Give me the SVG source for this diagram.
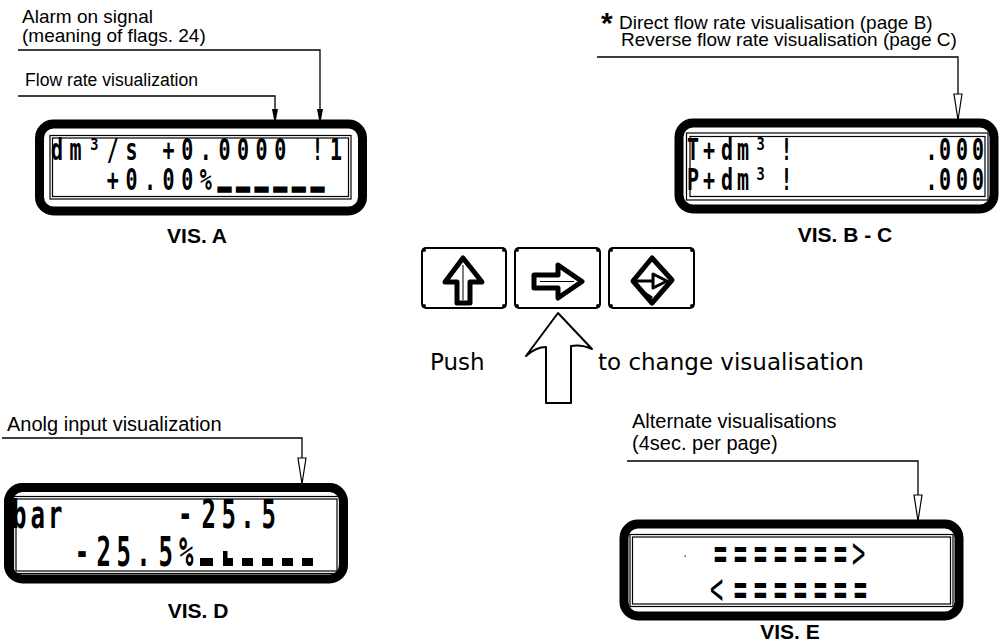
<svg xmlns="http://www.w3.org/2000/svg" width="1008" height="641" viewBox="0 0 1008 641">
<defs>
<marker id="mFill" markerUnits="userSpaceOnUse" markerWidth="18" markerHeight="8" refX="16" refY="3" orient="auto"><path d="M0,0 L16,3 L0,6 Z" fill="#000"/></marker>
<marker id="mOpen" markerUnits="userSpaceOnUse" markerWidth="30" markerHeight="12" refX="27" refY="5" orient="auto"><path d="M1,1 L27,5 L1,9 Z" fill="#fff" stroke="#000" stroke-width="1.2"/></marker>
</defs>
<style>
.lbl{font-family:"Liberation Sans",Arial,sans-serif;font-size:19px;fill:#000}
.lbl2{font-family:"Liberation Sans",Arial,sans-serif;font-size:20px;fill:#000}
.vis{font-family:"Liberation Sans",Arial,sans-serif;font-size:21px;font-weight:bold;text-anchor:middle;fill:#000}
.lcd{font-family:"DejaVu Sans Mono","Liberation Mono",monospace;font-weight:bold;font-size:20px;fill:#000}
.lcdD{font-size:24px}
.lcdE{font-size:22px}
.bar{stroke:#000;stroke-width:2.3}
.thin{font-weight:normal}
.frame{fill:none;stroke:#000;stroke-width:9}
.inner{fill:none;stroke:#000;stroke-width:1.2}
.lead{fill:none;stroke:#000;stroke-width:1.3}
.btn{fill:#fff;stroke:#000;stroke-width:2}
.dot{fill:#000}
.icon{fill:#fff;stroke:#000;stroke-width:5;stroke-linejoin:round}
.push{font-family:"DejaVu Sans",Verdana,sans-serif;font-size:23px;fill:#000}
</style>
<rect width="1008" height="641" fill="#fff"/>

<g id="connectors">
<path class="lead" d="M18,50 H320 V125" marker-end="url(#mFill)"/>
<path class="lead" d="M18,96 H275 V125" marker-end="url(#mFill)"/>
<path class="lead" d="M597,57 H958 V120" marker-end="url(#mOpen)"/>
<path class="lead" d="M2,438 H302 V484" marker-end="url(#mOpen)"/>
<path class="lead" d="M627,461 H918 V521" marker-end="url(#mOpen)"/>
</g>

<g id="label-alarm">
<text class="lbl" x="22" y="23">Alarm on signal</text>
<text class="lbl" x="22" y="42">(meaning of flags. 24)</text>
</g>
<g id="label-flow">
<text class="lbl" x="25" y="86" style="font-size:17.6px">Flow rate visualization</text>
</g>
<g id="label-bc">
<text x="601" y="33" style="font-family:'Liberation Sans',Arial,sans-serif;font-size:30px;font-weight:bold">*</text>
<text class="lbl" x="619" y="29">Direct flow rate visualisation (page B)</text>
<text class="lbl" x="621" y="46">Reverse flow rate visualisation (page C)</text>
</g>
<g id="label-analog">
<text class="lbl2" x="7" y="431">Anolg input visualization</text>
</g>
<g id="label-alternate">
<text class="lbl2" x="632" y="428">Alternate visualisations</text>
<text class="lbl2" x="632" y="450">(4sec. per page)</text>
</g>

<g id="vis-a">
<rect class="frame" x="39.5" y="124" width="323" height="87" rx="14"/>
<rect class="inner" x="50" y="135.5" width="301" height="63.5"/>
<rect class="inner" x="52.5" y="138" width="296" height="58.5"/>
<text class="lcd" transform="translate(51,160) scale(1,1.5)" x="0 18.6 37.2 55.8 74.4 93 111.6 130.2 148.8 167.4 186 204.6 223.2 241.8 260.4 279">dm³/s +0.0000 !1</text>
<text class="lcd" transform="translate(106.8,190) scale(1,1.5)" x="0 18.6 37.2 55.8 74.4 93 111.6 130.2 148.8 167.4 186 204.6">+0.00%<tspan class="bar" dy="-4">______</tspan></text>
<text class="vis" x="197" y="243">VIS. A</text>
</g>

<g id="vis-bc">
<rect class="frame" x="679" y="123" width="315" height="86" rx="14"/>
<rect class="inner" x="686.5" y="133" width="301.5" height="67"/>
<rect class="inner" x="690" y="136.5" width="295" height="60"/>
<text class="lcd" transform="translate(0,160) scale(1,1.55)" x="687 703 721 737 754.5 780.5 800 925.5 939 956 972">T+dm³! .000</text>
<text class="lcd" transform="translate(0,190) scale(1,1.55)" x="687 703 721 737 754.5 780.5 800 925.5 939 956 972">P+dm³! .000</text>
<text class="vis" x="845" y="242">VIS. B - C</text>
</g>

<g id="vis-d">
<rect class="frame" x="8.5" y="487.5" width="335" height="91.5" rx="14"/>
<rect class="inner" x="13.5" y="496.5" width="326" height="77"/>
<rect class="inner" x="16" y="499" width="321" height="72"/>
<text class="lcd lcdD" transform="translate(0,528) scale(1,1.62)" x="12 30.5 48 100 178 201.5 221.5 240.3 261.5">bar -25.5</text>
<text class="lcd lcdD" transform="translate(0,566) scale(1,1.7)" x="74.8 96.5 116.5 136.3 158.5 179">-25.5%</text>
<rect x="200" y="558" width="13" height="8" fill="#000"/>
<path d="M223,551 H227.5 V558 H233 V566 H223 Z" fill="#000"/>
<rect x="242" y="558" width="11" height="8" fill="#000"/>
<rect x="262" y="558" width="11" height="8" fill="#000"/>
<rect x="282" y="558" width="11" height="8" fill="#000"/>
<rect x="302" y="558" width="11" height="8" fill="#000"/>
<text class="vis" x="198" y="618">VIS. D</text>
</g>

<g id="vis-e">
<rect class="frame" x="624" y="524" width="335" height="92" rx="14"/>
<rect class="inner" x="630" y="534.5" width="323" height="72"/>
<rect class="inner" x="632.5" y="537" width="318" height="67"/>
<rect x="684.5" y="555.5" width="1.5" height="1.5" fill="#3344ff"/>
<text class="lcd lcdE" transform="translate(0,568) scale(1,2)" x="713.7 733.7 753.7 773.7 793.7 813.7 833.7 852">=======<tspan class="thin">&gt;</tspan></text>
<text class="lcd lcdE" transform="translate(0,604) scale(1,2)" x="710 733.7 753.7 773.7 793.7 813.7 833.7 853.7"><tspan class="thin">&lt;</tspan>=======</text>
<text class="vis" x="790" y="639">VIS. E</text>
</g>

<g id="btn-up">
<rect class="btn" x="422" y="248" width="84" height="60" rx="4"/>
<circle class="dot" cx="424" cy="250" r="2"/><circle class="dot" cx="504" cy="250" r="2"/><circle class="dot" cx="424" cy="306" r="2"/><circle class="dot" cx="504" cy="306" r="2"/>
<path class="icon" d="M463,258 L482,282 L470,282 L470,303 L457,303 L457,282 L445,282 Z"/>
<path d="M463,265 V300" stroke="#000" stroke-width="1" fill="none"/>
</g>

<g id="btn-right">
<rect class="btn" x="515" y="248" width="85" height="60" rx="4"/>
<circle class="dot" cx="517" cy="250" r="2"/><circle class="dot" cx="598" cy="250" r="2"/><circle class="dot" cx="517" cy="306" r="2"/><circle class="dot" cx="598" cy="306" r="2"/>
<path class="icon" d="M534,275 L558,275 L558,265 L582,281.5 L558,298 L558,288 L534,288 Z"/>
<path d="M540,281.5 H574" stroke="#000" stroke-width="1" fill="none"/>
</g>

<g id="btn-enter">
<rect class="btn" x="609" y="248" width="85" height="60" rx="4"/>
<circle class="dot" cx="611" cy="250" r="2"/><circle class="dot" cx="692" cy="250" r="2"/><circle class="dot" cx="611" cy="306" r="2"/><circle class="dot" cx="692" cy="306" r="2"/>
<path class="icon" d="M652,258 L672,280 L652,303 L633,281 Z"/>
<path d="M636,281 H656" stroke="#000" stroke-width="3" fill="none"/>
<path d="M653,274 L667,281 L653,288 Z" fill="#fff" stroke="#000" stroke-width="3" stroke-linejoin="round"/>
<path d="M640,290 L652,298" stroke="#000" stroke-width="3" fill="none"/>
</g>

<g id="push-hint">
<text class="push" x="430" y="370">Push</text>
<path d="M558,313 L592,349 Q581,344 571,346 L571,403 L546,403 L546,347 Q536,347 526,356 Z" fill="#fff" stroke="#000" stroke-width="2" stroke-linejoin="round"/>
<text class="push" x="598" y="370">to change visualisation</text>
</g>
</svg>
